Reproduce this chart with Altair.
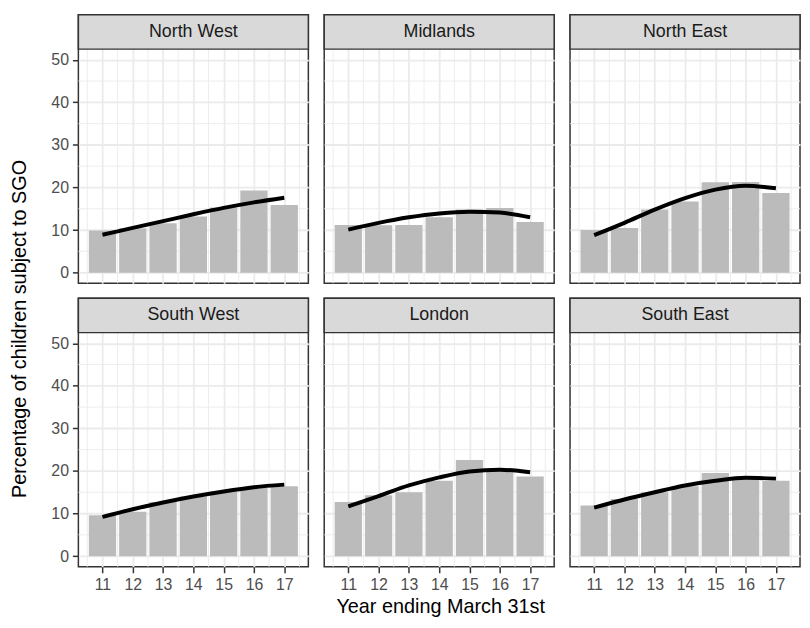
import altair as alt
import pandas as pd

regions = ["North West", "Midlands", "North East", "South West", "London", "South East"]
years = [11, 12, 13, 14, 15, 16, 17]

# observed percentages (bars)
north_west_bars = [9.9, 10.4, 11.6, 13.2, 15.3, 19.3, 15.9]
midlands_bars = [11.2, 11.1, 11.2, 13.0, 14.8, 15.2, 11.9]
north_east_bars = [10.0, 10.5, 14.8, 16.7, 21.2, 21.3, 18.7]
south_west_bars = [9.6, 10.4, 12.7, 14.0, 15.2, 16.2, 16.4]
london_bars = [12.7, 14.3, 15.0, 17.7, 22.6, 20.1, 18.7]
south_east_bars = [11.9, 13.4, 15.0, 16.4, 19.5, 18.4, 17.7]

# fitted trend (black line)
north_west_trend = [8.9, 10.5, 12.1, 13.7, 15.2, 16.5, 17.6]
midlands_trend = [10.1, 11.7, 13.0, 13.9, 14.3, 14.1, 13.0]
north_east_trend = [8.8, 11.7, 14.8, 17.5, 19.5, 20.4, 19.8]
south_west_trend = [9.2, 11.0, 12.6, 14.0, 15.2, 16.2, 16.8]
london_trend = [11.7, 14.1, 16.6, 18.5, 19.9, 20.3, 19.7]
south_east_trend = [11.4, 13.3, 15.0, 16.6, 17.7, 18.4, 18.2]

bars_by_region = dict(zip(regions, [north_west_bars, midlands_bars, north_east_bars,
                                    south_west_bars, london_bars, south_east_bars]))
trend_by_region = dict(zip(regions, [north_west_trend, midlands_trend, north_east_trend,
                                     south_west_trend, london_trend, south_east_trend]))

y_major = [0, 10, 20, 30, 40, 50]
y_minor = [5, 15, 25, 35, 45]
x_major = [11, 12, 13, 14, 15, 16, 17]
x_minor = [10.5, 11.5, 12.5, 13.5, 14.5, 15.5, 16.5, 17.5]

FONT = "Liberation Sans"
W = 232
H = 271
Y_TOP = 60.6
STRIP_LOW = 52.5

xscale = alt.Scale(domain=[10.205, 17.795], nice=False, zero=False)
yscale = alt.Scale(domain=[-2.5, Y_TOP], nice=False, zero=False)

GRID_COLOR = "#EBEBEB"
TICK_STYLE = dict(tickColor="#333333", tickWidth=1.5, tickSize=6,
                  labelFontSize=16, labelColor="#4D4D4D", labelFont=FONT,
                  labelPadding=4, labelOverlap=False, labelSeparation=0,
                  labelFlush=False, labelBound=False)
HIDDEN = dict(labels=False, ticks=False, minExtent=0)


def make_panel(i, name):
    col = i % 3
    row = i // 3
    df = pd.DataFrame({"year": years,
                       "value": bars_by_region[name],
                       "trend": trend_by_region[name]})
    xstyle = dict(format="d", **TICK_STYLE) if row == 1 else HIDDEN
    ystyle = TICK_STYLE if col == 0 else HIDDEN
    major_x_axis = alt.Axis(values=x_major, grid=True, gridColor=GRID_COLOR, gridWidth=1.8,
                            domain=False, title=None, orient="bottom", **xstyle)
    major_y_axis = alt.Axis(values=y_major, grid=True, gridColor=GRID_COLOR, gridWidth=1.8,
                            domain=False, title=None, orient="left", **ystyle)
    base = alt.Chart(df)
    axes = base.mark_point(opacity=0).encode(
        x=alt.X("year:Q", scale=xscale, axis=major_x_axis),
        y=alt.Y("value:Q", scale=yscale, axis=major_y_axis),
    )
    minor_x = alt.Chart(pd.DataFrame({"v": x_minor})).mark_rule(
        color=GRID_COLOR, strokeWidth=0.9).encode(
        x=alt.X("v:Q", scale=xscale, axis=None),
    )
    minor_y = alt.Chart(pd.DataFrame({"v": y_minor})).mark_rule(
        color=GRID_COLOR, strokeWidth=0.9).encode(
        y=alt.Y("v:Q", scale=yscale, axis=None),
    )
    bars = base.transform_calculate(
        x0="datum.year - 0.45", x1="datum.year + 0.45"
    ).mark_rect(color="#BBBBBB").encode(
        x=alt.X("x0:Q", scale=xscale, axis=None),
        x2="x1:Q",
        y=alt.Y("value:Q", scale=yscale, axis=None),
        y2=alt.datum(0),
    )
    line = base.mark_line(color="black", strokeWidth=4, interpolate="monotone",
                          strokeCap="butt").encode(
        x=alt.X("year:Q", scale=xscale, axis=None),
        y=alt.Y("trend:Q", scale=yscale, axis=None),
    )
    sdf = pd.DataFrame({"region": [name]})
    strip = alt.Chart(sdf).mark_rect(fill="#D9D9D9", stroke="#333333",
                                     strokeWidth=1.5).encode(
        x=alt.value(0), x2=alt.value(W),
        y=alt.datum(STRIP_LOW, scale=yscale, axis=None), y2=alt.datum(Y_TOP),
    )
    strip_text = alt.Chart(sdf).mark_text(fontSize=18, color="#1A1A1A", font=FONT,
                                          baseline="middle", align="center").encode(
        x=alt.value(W / 2),
        y=alt.datum((STRIP_LOW + Y_TOP) / 2, axis=None),
        text="region:N",
    )
    main = alt.layer(minor_x, minor_y, bars, line, strip, strip_text)
    return alt.layer(axes, main).resolve_axis(
        x="independent", y="independent").properties(width=W, height=H)


panels = [make_panel(i, r) for i, r in enumerate(regions)]
row1 = alt.hconcat(*panels[:3], spacing=12)
row2 = alt.hconcat(*panels[3:], spacing=12)
grid = alt.vconcat(row1, row2, spacing=11).properties(
    title=alt.TitleParams("Year ending March 31st", orient="bottom", anchor="middle",
                          fontSize=20, font=FONT, fontWeight="normal", color="black",
                          offset=4, frame="bounds", dx=15)
)
chart = alt.hconcat(grid).properties(
    title=alt.TitleParams("Percentage of children subject to SGO", orient="left",
                          anchor="middle", fontSize=20, font=FONT, fontWeight="normal",
                          color="black", offset=20, frame="bounds", dx=-14)
).configure(
    padding={"left": 2, "top": 2, "right": 0, "bottom": 0},
    font=FONT,
).configure_view(stroke="#333333", strokeWidth=1.5)

chart.save("out.html", embed_options={"renderer": "svg", "actions": False})
